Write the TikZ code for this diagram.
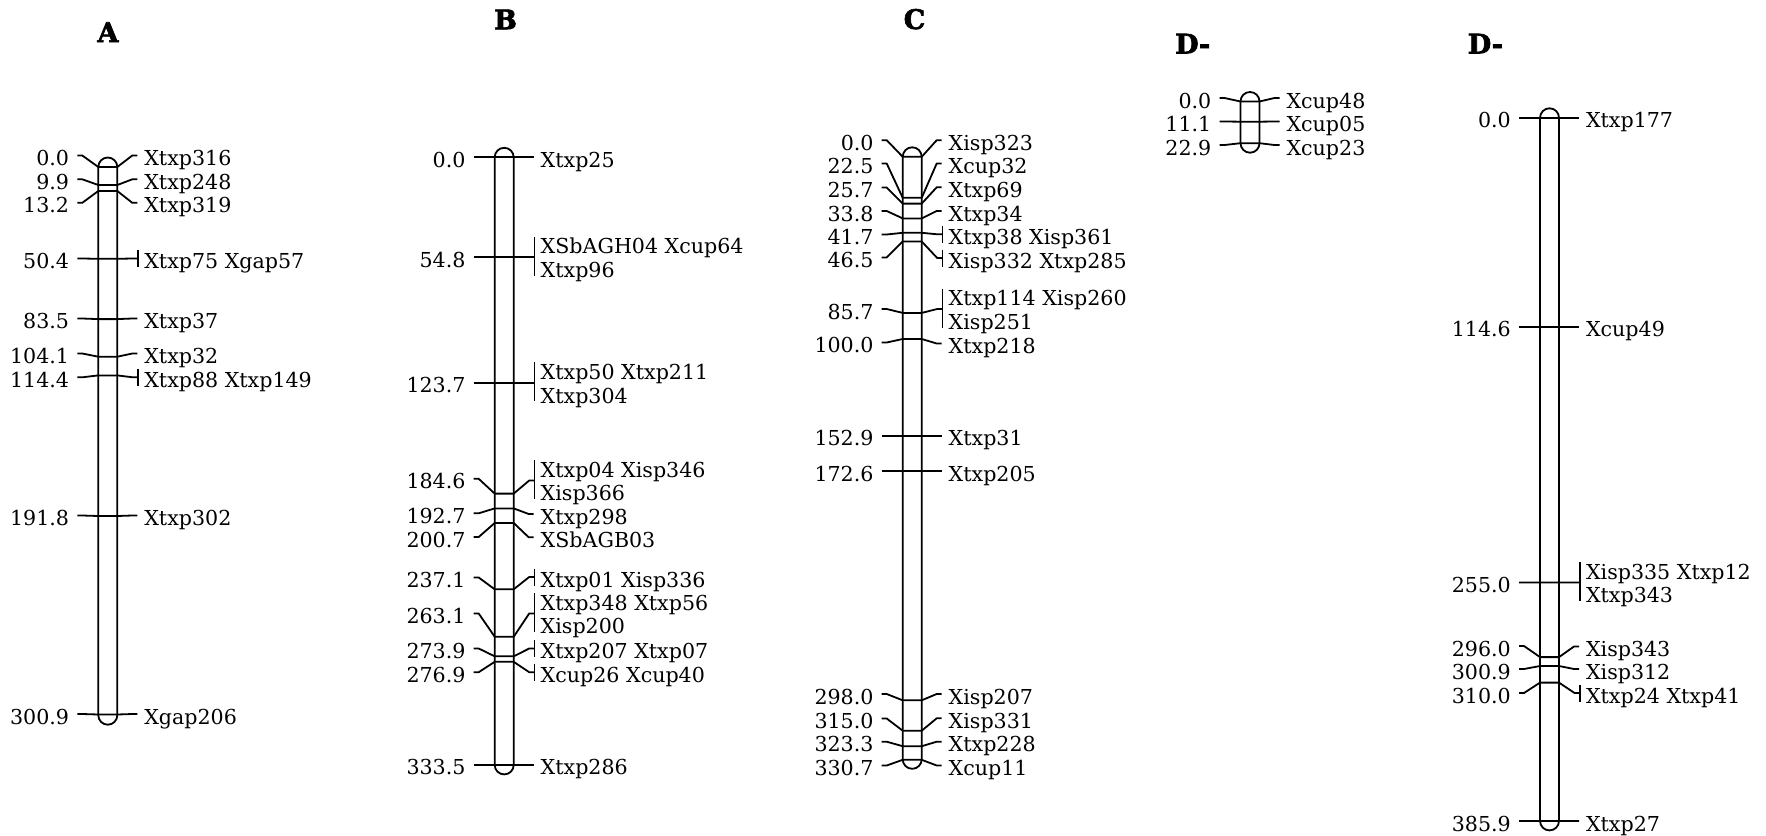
\documentclass[tikz,border=0pt]{standalone}
\usepackage{fontspec}
\newfontfamily\labfont{DejaVu Serif}
\newfontfamily\titfont{DejaVu Serif Bold}[FakeBold=2.5]
\tikzset{
  conn/.style={line width=1.8pt, line join=round},
  chrom/.style={line width=1.8pt, rounded corners=9.5pt},
  numlab/.style={anchor=base east, inner sep=0pt, font=\labfont\fontsize{20.6}{24}\selectfont},
  namelab/.style={anchor=base west, inner sep=0pt, font=\labfont\fontsize{20.6}{24}\selectfont},
  maptitle/.style={anchor=base, inner sep=0pt, font=\titfont\fontsize{27}{30}\selectfont},
}
% chromosome outline: name, cx, top marker y, bottom marker y
\newcommand\chromo[4]{%
  \draw[chrom] (#2-9.5,#3-9.5) rectangle (#2+9.5,#4+9.5);
  \coordinate (#1) at (#2,#3);}
% plain marker: name, cx, marker y, left label y, right label y, position, locus
\newcommand\mkS[7]{%
  \coordinate (#1-l) at (#2-30.5,#4);
  \coordinate (#1-r) at (#2+29.5,#5);
  \node[numlab] (#1-n) at (#2-38.5,#4+10) {#6};
  \node[namelab] (#1-t) at (#2+36.3,#5+10) {#7};
  \draw[conn] (#1-l) -- ++(5,0) -- (#2-9.5,#3) -- (#2+9.5,#3) -- (#2+24.5,#5) -- (#1-r);}
% marker with one-line group and bar
\newcommand\mkB[7]{%
  \coordinate (#1-l) at (#2-30.5,#4);
  \coordinate (#1-r) at (#2+30.3,#5);
  \node[numlab] (#1-n) at (#2-38.5,#4+10) {#6};
  \node[namelab] (#1-t) at (#2+36.3,#5+10) {#7};
  \draw[conn] (#1-l) -- ++(5,0) -- (#2-9.5,#3) -- (#2+9.5,#3) -- (#2+25,#5) -- (#1-r);
  \draw[conn] ([yshift=8.5pt]#1-r) -- ([yshift=-8.5pt]#1-r);}
% marker with two-line group and bar
\newcommand\mkD[8]{%
  \coordinate (#1-l) at (#2-30.5,#4);
  \coordinate (#1-r) at (#2+30.3,#5);
  \node[numlab] (#1-n) at (#2-38.5,#4+10) {#6};
  \node[namelab] (#1-t) at (#2+36.3,#5-3.5) {#7};
  \node[namelab] (#1-u) at (#2+36.3,#5+20.3) {#8};
  \draw[conn] (#1-l) -- ++(5,0) -- (#2-9.5,#3) -- (#2+9.5,#3) -- (#2+25,#5) -- (#1-r);
  \draw[conn] ([yshift=20.5pt]#1-r) -- ([yshift=-18.5pt]#1-r);}
\begin{document}
\begin{tikzpicture}[x=1pt,y=-1pt]
\useasboundingbox (0,0) rectangle (1766,835);
% titles
\node[maptitle] (tA) at (108,42) {A};
\node[maptitle] (tB) at (505.5,29.3) {B};
\node[maptitle] (tC) at (914.5,29) {C};
\node[maptitle, anchor=base west] (tD1) at (1175,53.5) {D-};
\node[maptitle, anchor=base west] (tD2) at (1467.6,53.5) {D-};
% ---- A ----
\chromo{chA}{107.8}{167}{715.2}
\mkS{a0}{107.8}{167}{155.5}{155.5}{0.0}{Xtxp316}
\mkS{a1}{107.8}{185}{179.3}{179.3}{9.9}{Xtxp248}
\mkS{a2}{107.8}{191}{202.8}{202.8}{13.2}{Xtxp319}
\mkB{a3}{107.8}{258.8}{258.5}{258.5}{50.4}{Xtxp75 Xgap57}
\mkS{a4}{107.8}{319.1}{318.5}{318.5}{83.5}{Xtxp37}
\mkS{a5}{107.8}{356.7}{353.5}{353.5}{104.1}{Xtxp32}
\mkB{a6}{107.8}{375.4}{377.3}{377.3}{114.4}{Xtxp88 Xtxp149}
\mkS{a7}{107.8}{516}{515.5}{515.5}{191.8}{Xtxp302}
\mkS{a8}{107.8}{714.5}{714}{714}{300.9}{Xgap206}
% ---- B ----
\chromo{chB}{504.2}{157.3}{764.9}
\mkS{b0}{504.2}{157.3}{157.3}{157.3}{0.0}{Xtxp25}
\mkD{b1}{504.2}{257.1}{257.1}{257.1}{54.8}{XSbAGH04 Xcup64}{Xtxp96}
\mkD{b2}{504.2}{382.7}{382.7}{382.7}{123.7}{Xtxp50 Xtxp211}{Xtxp304}
\mkD{b3}{504.2}{493.6}{478.8}{480.5}{184.6}{Xtxp04 Xisp346}{Xisp366}
\mkS{b4}{504.2}{508.4}{513.3}{514}{192.7}{Xtxp298}
\mkS{b5}{504.2}{523}{537}{537.3}{200.7}{XSbAGB03}
\mkB{b6}{504.2}{589.3}{577.5}{577}{237.1}{Xtxp01 Xisp336}
\mkD{b7}{504.2}{636.7}{613.5}{613.5}{263.1}{Xtxp348 Xtxp56}{Xisp200}
\mkB{b8}{504.2}{656.3}{648.5}{648.5}{273.9}{Xtxp207 Xtxp07}
\mkB{b9}{504.2}{661.8}{672.2}{672.2}{276.9}{Xcup26 Xcup40}
\mkS{b10}{504.2}{764.9}{764.9}{764.9}{333.5}{Xtxp286}
% ---- C ----
\chromo{chC}{912.2}{156.8}{759.3}
\mkS{c0}{912.2}{156.8}{140.2}{140.2}{0.0}{Xisp323}
\mkS{c1}{912.2}{197.8}{163.5}{163.5}{22.5}{Xcup32}
\mkS{c2}{912.2}{203.6}{187.5}{187.3}{25.7}{Xtxp69}
\mkS{c3}{912.2}{218.4}{211}{211}{33.8}{Xtxp34}
\mkB{c4}{912.2}{232.8}{234.5}{234.3}{41.7}{Xtxp38 Xisp361}
\mkB{c5}{912.2}{241.5}{257.5}{258}{46.5}{Xisp332 Xtxp285}
\mkD{c6}{912.2}{312.9}{309}{309}{85.7}{Xtxp114 Xisp260}{Xisp251}
\mkS{c7}{912.2}{339}{342.5}{343.5}{100.0}{Xtxp218}
\mkS{c8}{912.2}{435.6}{435.6}{435.6}{152.9}{Xtxp31}
\mkS{c9}{912.2}{471.3}{471.3}{471.3}{172.6}{Xtxp205}
\mkS{c10}{912.2}{700.3}{694}{694}{298.0}{Xisp207}
\mkS{c11}{912.2}{730.7}{718.5}{718.3}{315.0}{Xisp331}
\mkS{c12}{912.2}{746.2}{741.7}{741.7}{323.3}{Xtxp228}
\mkS{c13}{912.2}{759.8}{765.5}{765.5}{330.7}{Xcup11}
% ---- D- (small) ----
\chromo{chD1}{1250}{101.5}{143.2}
\mkS{d0}{1250}{101.5}{98}{98}{0.0}{Xcup48}
\mkS{d1}{1250}{121.7}{121.5}{121.5}{11.1}{Xcup05}
\mkS{d2}{1250}{143.2}{145}{145}{22.9}{Xcup23}
% ---- D- (long) ----
\chromo{chD2}{1549.5}{117.8}{820.9}
\mkS{e0}{1549.5}{117.8}{117.8}{117.8}{0.0}{Xtxp177}
\mkS{e1}{1549.5}{326.6}{326.6}{326.6}{114.6}{Xcup49}
\mkD{e2}{1549.5}{582.4}{582.5}{582.5}{255.0}{Xisp335 Xtxp12}{Xtxp343}
\mkS{e3}{1549.5}{657.1}{646}{646.5}{296.0}{Xisp343}
\mkS{e4}{1549.5}{666}{669}{669}{300.9}{Xisp312}
\mkB{e5}{1549.5}{682.6}{693}{693}{310.0}{Xtxp24 Xtxp41}
\mkS{e6}{1549.5}{820.9}{821}{821}{385.9}{Xtxp27}
\end{tikzpicture}
\end{document}
